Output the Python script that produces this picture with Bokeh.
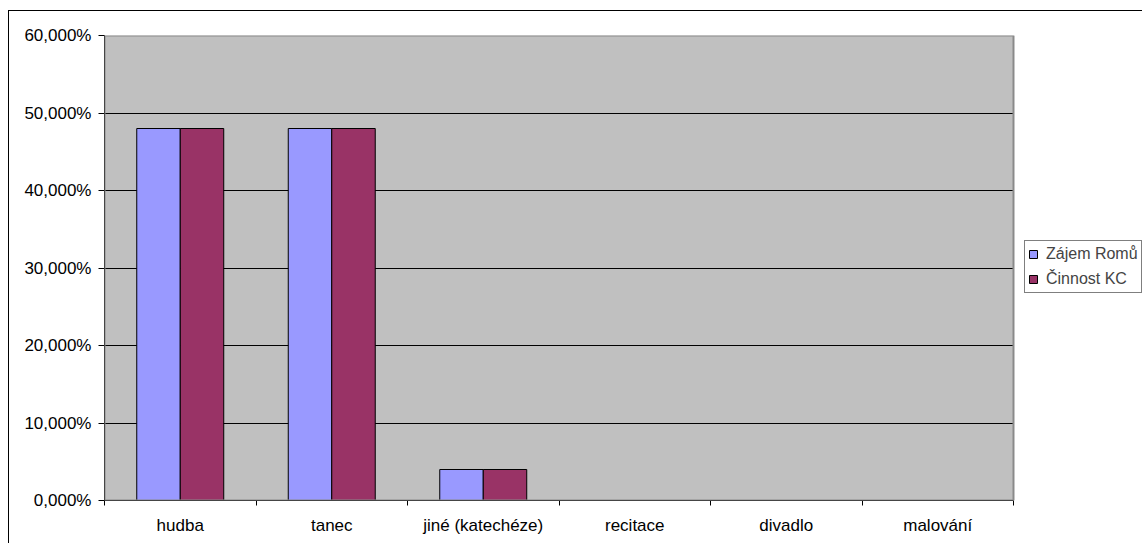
import numpy as np
from bokeh.plotting import figure
from bokeh.models import (FixedTicker, Legend, LegendItem, Range1d, ColumnDataSource,
                          CustomJSTickFormatter, BoxAnnotation)
from bokeh.embed import file_html
from bokeh.resources import INLINE

categories = ["hudba", "tanec", "jiné (katechéze)", "recitace", "divadlo", "malování"]
zajem_romu = [0.48, 0.48, 0.04, 0.0, 0.0, 0.0]
cinnost_kc = [0.48, 0.48, 0.04, 0.0, 0.0, 0.0]
series_names = ["Zájem Romů", "Činnost KC"]
y_ticks = [0.0, 0.1, 0.2, 0.3, 0.4, 0.5, 0.6]

FONT = "Liberation Sans"
n = len(categories)
centers = np.arange(n) + 0.5
bar_w = 0.287
off = 0.1436

# frame spans to the right edge; the plot area itself covers categories 0..n
x_end = n * (1143 - 104) / (1013 - 104)

p = figure(width=1134, height=533, output_backend="svg", toolbar_location=None,
           x_range=Range1d(0, x_end), y_range=Range1d(0, 0.6),
           min_border_left=95, min_border_top=24, min_border_right=0, min_border_bottom=44,
           margin=(10, 0, 0, 8))
p.styles = {"border-left": "1px solid black", "border-top": "1px solid black"}
p.background_fill_color = "white"
p.border_fill_color = "white"
p.outline_line_color = None

# grey plot area (categories 0..n), drawn beneath grid
p.add_layout(BoxAnnotation(right=n, fill_color="#C0C0C0", fill_alpha=1, line_color=None,
                           level="image"))

src = ColumnDataSource(dict(x1=centers - off, x2=centers + off, a=zajem_romu, b=cinnost_kc))
r1 = p.vbar(x="x1", top="a", width=bar_w, source=src, fill_color="#9999FF",
            line_color="black", line_width=1)
r2 = p.vbar(x="x2", top="b", width=bar_w, source=src, fill_color="#993366",
            line_color="black", line_width=1)

# y axis
p.yaxis.ticker = FixedTicker(ticks=y_ticks)
p.yaxis.formatter = CustomJSTickFormatter(code="return (tick*100).toFixed(3).replace('.', ',') + '%';")
p.yaxis.axis_line_color = "black"
p.yaxis.major_tick_line_color = "black"
p.yaxis.major_tick_out = 6
p.yaxis.major_tick_in = 0
p.yaxis.minor_tick_line_color = None
p.yaxis.major_label_standoff = 7
p.yaxis.major_label_text_font = FONT
p.yaxis.major_label_text_font_size = "17px"
p.yaxis.major_label_text_color = "black"

# x axis
p.xaxis.ticker = FixedTicker(ticks=list(centers), minor_ticks=list(range(n + 1)))
p.xaxis.formatter = CustomJSTickFormatter(args=dict(cats=categories),
                                          code="return cats[Math.floor(tick)];")
p.xaxis.bounds = (0, n)
p.xaxis.axis_line_color = "black"
p.xaxis.major_tick_out = 0
p.xaxis.major_tick_in = 0
p.xaxis.major_tick_line_color = None
p.xaxis.minor_tick_out = 5
p.xaxis.minor_tick_in = 0
p.xaxis.minor_tick_line_color = "black"
p.xaxis.major_label_standoff = 10
p.xaxis.major_label_text_font = FONT
p.xaxis.major_label_text_font_size = "17px"
p.xaxis.major_label_text_color = "black"

p.xgrid.visible = False
p.ygrid.ticker = FixedTicker(ticks=y_ticks[1:-1])
p.ygrid.grid_line_color = "black"
p.ygrid.grid_line_width = 1

# white area right of the plot area (legend zone) hides the grid there
p.add_layout(BoxAnnotation(left=n, bottom=0.05, top=0.55, fill_color="white", fill_alpha=1,
                           line_color=None))
# plot-area border (grey top/right)
p.add_layout(BoxAnnotation(right=n, top=0.6, fill_alpha=0, line_color="#8a8a8a",
                           line_width=2, line_alpha=1))

legend = Legend(items=[LegendItem(label=series_names[0], renderers=[r1]),
                       LegendItem(label=series_names[1], renderers=[r2])],
                location=(920, 207), margin=0, padding=3, spacing=5,
                glyph_width=10, glyph_height=10, label_standoff=8, label_height=20,
                label_text_font=FONT, label_text_font_size="16px",
                border_line_color="black", border_line_width=1,
                background_fill_color="white", background_fill_alpha=1)
p.add_layout(legend, "center")

open("out.html", "w").write(file_html(p, INLINE))
